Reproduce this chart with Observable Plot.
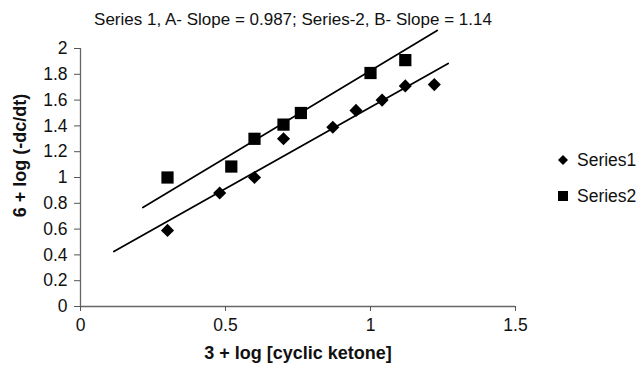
<!DOCTYPE html>
<html>
<head>
<meta charset="utf-8">
<script src="https://cdn.jsdelivr.net/npm/d3@7"></script>
<script src="https://cdn.jsdelivr.net/npm/@observablehq/plot@0.6"></script>
<style>
  html, body { margin: 0; padding: 0; background: #fff; }
  #wrap { position: relative; width: 640px; height: 365px; font-family: "Liberation Sans", Arial, sans-serif; }
  #legend { position: absolute; left: 557px; top: 149px; font-size: 17.5px; color: #111; }
  #legend div { display: flex; align-items: center; height: 22px; margin-bottom: 14px; }
  #legend svg { margin-right: 8px; }
</style>
</head>
<body>
<div id="wrap">
  <div id="chart"></div>
  <div id="legend">
    <div><svg width="12" height="12"><path d="M6,1L11,6L6,11L1,6Z" fill="#000"/></svg>Series1</div>
    <div><svg width="12" height="12"><rect x="1" y="1" width="10" height="10" fill="#000"/></svg>Series2</div>
  </div>
</div>
<script>
const titleText = "Series 1, A- Slope = 0.987; Series-2, B- Slope = 1.14";
const xLabel = "3 + log [cyclic ketone]";
const yLabel = "6 + log (-dc/dt)";

const series1X = [0.30, 0.48, 0.60, 0.70, 0.87, 0.95, 1.04, 1.12, 1.22];
const series1Y = [0.59, 0.88, 1.00, 1.30, 1.39, 1.52, 1.60, 1.71, 1.72];
const series2X = [0.30, 0.52, 0.60, 0.70, 0.76, 1.00, 1.12];
const series2Y = [1.00, 1.085, 1.30, 1.41, 1.50, 1.81, 1.91];

const trend1X = [0.115, 1.268];
const trend1Y = [0.426, 1.884];
const trend2X = [0.215, 1.23];
const trend2Y = [0.767, 2.14];

const xTicks = [0, 0.5, 1, 1.5];
const yTicks = [0, 0.2, 0.4, 0.6, 0.8, 1, 1.2, 1.4, 1.6, 1.8, 2];

const s1 = series1X.map((x, i) => ({x, y: series1Y[i]}));
const s2 = series2X.map((x, i) => ({x, y: series2Y[i]}));
const t1 = trend1X.map((x, i) => ({x, y: trend1Y[i]}));
const t2 = trend2X.map((x, i) => ({x, y: trend2Y[i]}));

const fmt = d => String(+d.toFixed(1));

const chart = Plot.plot({
  width: 640,
  height: 365,
  marginLeft: 80,
  marginRight: 125,
  marginTop: 48,
  marginBottom: 59,
  style: {fontFamily: "Liberation Sans, Arial, sans-serif", fontSize: "17.5px", color: "#111", background: "#fff", overflow: "visible"},
  x: {domain: [0, 1.5]},
  y: {domain: [0, 2]},
  marks: [
    Plot.ruleX([0], {stroke: "#666", strokeWidth: 1.3}),
    Plot.ruleY([0], {stroke: "#666", strokeWidth: 1.3}),
    Plot.axisX({ticks: xTicks, tickFormat: fmt, tickSize: 5, tickPadding: 7, stroke: "#555", fontSize: 17.5, label: null}),
    Plot.axisY({ticks: yTicks, tickFormat: fmt, tickSize: 6, tickPadding: 7, stroke: "#555", fontSize: 17.5, label: null}),
    Plot.line(t1, {x: "x", y: "y", stroke: "#000", strokeWidth: 1.7, clip: false}),
    Plot.line(t2, {x: "x", y: "y", stroke: "#000", strokeWidth: 1.7, clip: false}),
    Plot.dot(s1, {x: "x", y: "y", symbol: "diamond2", fill: "#000", stroke: "none", r: 5.9}),
    Plot.dot(s2, {x: "x", y: "y", symbol: "square", fill: "#000", stroke: "none", r: 6.9}),
    Plot.text([titleText], {frameAnchor: "top", dy: -36, dx: -5, fontSize: 17, fill: "#111"}),
    Plot.text([xLabel], {frameAnchor: "bottom", dy: 52, fontSize: 18, fontWeight: "bold", fill: "#111"}),
    Plot.text([yLabel], {frameAnchor: "left", textAnchor: "middle", dx: -60, dy: -22, rotate: -90, fontSize: 18, fontWeight: "bold", fill: "#111"})
  ]
});
document.getElementById("chart").appendChild(chart);
</script>
</body>
</html>
